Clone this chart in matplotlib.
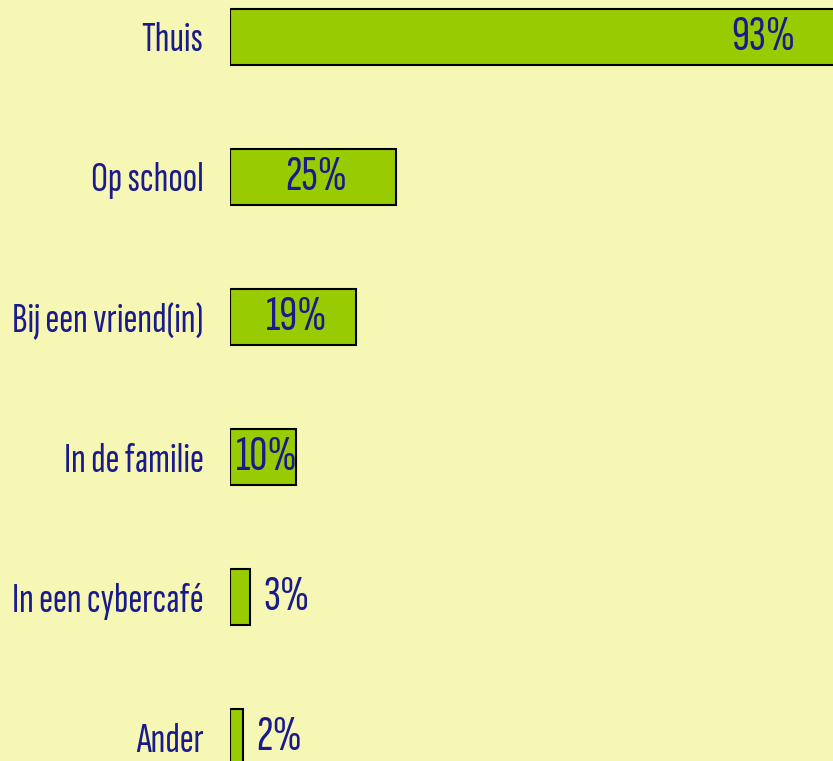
import matplotlib
matplotlib.use('Agg')
import matplotlib.pyplot as plt

# data
categories = ['Thuis', 'Op school', 'Bij een vriend(in)', 'In de familie', 'In een cybercafé', 'Ander']
values = [93, 25, 19, 10, 3, 2]

bg = '#F7F7B5'
green = '#99CC00'
navy = '#1A1A8C'

plt.rcParams['font.family'] = ['Sofia Sans Extra Condensed', 'DejaVu Sans']

fig = plt.figure(figsize=(8.33, 7.61), dpi=100, facecolor=bg)
ax = fig.add_axes([230 / 833, 0, 664 / 833, 1])
ax.set_facecolor(bg)

y = list(range(len(categories)))
ax.barh(y, values, height=0.4, color=green, edgecolor='black', linewidth=1.5)

ax.set_xlim(0, 100)
ax.set_ylim(5.171, -0.264)
for s in ax.spines.values():
    s.set_visible(False)
ax.set_xticks([])
ax.set_yticks(y)
ax.set_yticklabels(categories, fontsize=30.5, color=navy)
ax.tick_params(axis='y', length=0, pad=19)

# value labels
for i, v in enumerate(values):
    txt = f'{v}%'
    if v >= 50:
        ax.text(v - 7.8, i, txt, ha='right', va='center', fontsize=36, color=navy)
    elif v >= 10:
        ax.text(v / 2 + 0.5, i, txt, ha='center', va='center', fontsize=36, color=navy)
    else:
        ax.text(v + 2, i, txt, ha='left', va='center', fontsize=36, color=navy)

fig.savefig('out.png', dpi=100, facecolor=bg)
